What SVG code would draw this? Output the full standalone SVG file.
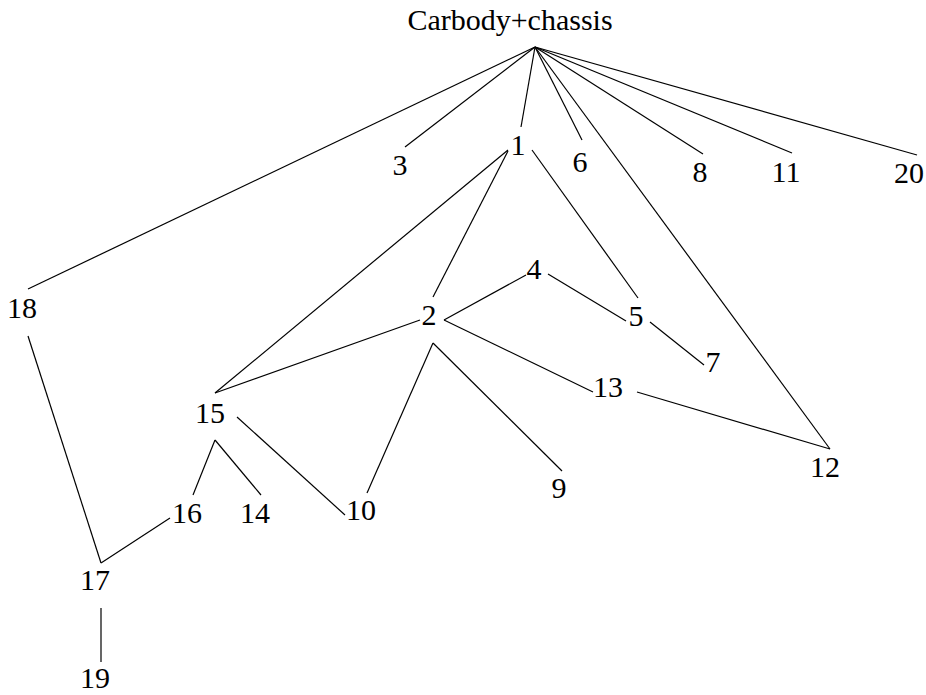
<svg xmlns="http://www.w3.org/2000/svg" width="926" height="695" viewBox="0 0 926 695">
<style>
text{font-family:"Liberation Serif","Times New Roman",serif;font-size:30px;fill:#000;text-anchor:middle}
#connectors line{stroke:#000;stroke-width:1.2;fill:none}
</style>
<rect width="926" height="695" fill="#fff"/>
<g id="connectors">
<line x1="535" y1="47" x2="28" y2="289"/>
<line x1="535" y1="47" x2="405" y2="147"/>
<line x1="535" y1="47" x2="521" y2="127"/>
<line x1="535" y1="47" x2="582" y2="140"/>
<line x1="535" y1="47" x2="703" y2="154"/>
<line x1="535" y1="47" x2="792" y2="153"/>
<line x1="535" y1="47" x2="917" y2="155"/>
<line x1="535" y1="47" x2="830" y2="449"/>
<line x1="508" y1="150" x2="215" y2="393"/>
<line x1="508" y1="151" x2="433" y2="297"/>
<line x1="532" y1="150" x2="638" y2="298"/>
<line x1="420" y1="320" x2="215" y2="393"/>
<line x1="444" y1="320" x2="526" y2="275"/>
<line x1="548" y1="274" x2="626" y2="321"/>
<line x1="650" y1="322" x2="704" y2="365"/>
<line x1="444" y1="320" x2="593" y2="392"/>
<line x1="637" y1="392" x2="830" y2="449"/>
<line x1="433" y1="343" x2="367" y2="493"/>
<line x1="433" y1="343" x2="562" y2="471"/>
<line x1="237" y1="417" x2="345" y2="515"/>
<line x1="215" y1="440" x2="193" y2="495"/>
<line x1="215" y1="440" x2="261" y2="495"/>
<line x1="170" y1="518" x2="101" y2="563"/>
<line x1="28" y1="336" x2="101" y2="563"/>
<line x1="101" y1="608" x2="101" y2="662"/>
</g>
<g id="n-root"><text x="510" y="30">Carbody+chassis</text></g>
<g id="n3"><text x="400" y="175">3</text></g>
<g id="n1"><text x="518" y="155">1</text></g>
<g id="n6"><text x="580" y="172">6</text></g>
<g id="n8"><text x="700" y="182">8</text></g>
<g id="n11"><text x="786" y="182">11</text></g>
<g id="n20"><text x="909" y="183">20</text></g>
<g id="n18"><text x="22" y="318">18</text></g>
<g id="n4"><text x="534" y="279">4</text></g>
<g id="n2"><text x="429" y="325">2</text></g>
<g id="n5"><text x="636" y="326">5</text></g>
<g id="n7"><text x="713" y="372">7</text></g>
<g id="n13"><text x="608" y="397">13</text></g>
<g id="n15"><text x="210" y="423">15</text></g>
<g id="n12"><text x="825" y="477">12</text></g>
<g id="n9"><text x="559" y="498">9</text></g>
<g id="n10"><text x="361" y="520">10</text></g>
<g id="n16"><text x="187" y="523">16</text></g>
<g id="n14"><text x="255" y="523">14</text></g>
<g id="n17"><text x="95" y="590">17</text></g>
<g id="n19"><text x="95" y="688">19</text></g>
</svg>
